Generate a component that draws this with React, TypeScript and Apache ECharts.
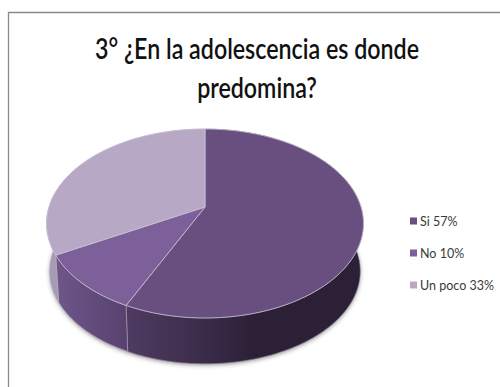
import React, { useEffect, useRef } from "react";
import * as echarts from "echarts";

// Survey answers, in percent, clockwise from twelve o'clock.
const answers = ["Si", "No", "Un poco"];
const percentages = [57, 10, 33];
const topColors = ["#684f80", "#7d5f9a", "#b7a9c5"];
const wallStops = [
  ["#4f3b62", "#2b2036"],
  ["#6e5689", "#57426f"],
  ["#a89bb5", "#958aa4"],
];
const titleLines = ["3° ¿En la adolescencia es donde", "predomina?"];

// Perspective tilt of the disc: apex position, radii and foreshortening.
const APEX_X = 205;
const APEX_Y = 207;
const RADIUS_X = 156;
const RADIUS_Y = 91.6;
const TILT = 0.1746;
const DEPTH = 48;
const BASE_SCALE = 0.98;

const labels = answers.map((a, i) => `${a} ${percentages[i]}%`);
const total = percentages.reduce((s, v) => s + v, 0);

const project = (deg: number, scale = 1, dy = 0): number[] => {
  const t = (deg * Math.PI) / 180;
  const u = Math.sin(t);
  const v = -Math.cos(t);
  const w = 1 - TILT * v;
  return [APEX_X + (scale * RADIUS_X * u) / w, APEX_Y + dy + (scale * RADIUS_Y * v) / w];
};

const arc = (from: number, to: number, scale = 1, dy = 0): number[][] => {
  const steps = Math.max(2, Math.ceil(Math.abs(to - from) / 1.5));
  const pts: number[][] = [];
  for (let i = 0; i <= steps; i++) pts.push(project(from + ((to - from) * i) / steps, scale, dy));
  return pts;
};

const spans = percentages.map((_, i) => {
  const before = percentages.slice(0, i).reduce((s, v) => s + v, 0);
  return [(before / total) * 360, ((before + percentages[i]) / total) * 360];
});

const renderTop = (i: number) => () => {
  const [a, b] = spans[i];
  return {
    type: "polygon",
    shape: { points: [[APEX_X, APEX_Y], ...arc(a, b)] },
    style: { fill: topColors[i], stroke: "#c9c1d3", lineWidth: 0.8, lineJoin: "round" },
  };
};

const renderWall = (_: unknown, api: any) => {
  const i = api.value(0);
  const [a, b] = spans[i];
  const top = arc(a, b);
  const bottom = arc(b, a, BASE_SCALE, DEPTH);
  return {
    type: "polygon",
    shape: { points: [...top, ...bottom] },
    style: {
      fill: new echarts.graphic.LinearGradient(
        0,
        0,
        1,
        0,
        i === 0
          ? [
              { offset: 0, color: wallStops[0][0] },
              { offset: 0.28, color: "#3e2e4e" },
              { offset: 0.55, color: wallStops[0][1] },
              { offset: 1, color: wallStops[0][1] },
            ]
          : [
              { offset: 0, color: wallStops[i][0] },
              { offset: 1, color: wallStops[i][1] },
            ],
      ),
      stroke: i === 0 ? "#8f8599" : "#b5acc0",
      lineWidth: 0.6,
    },
  };
};

// Soft shadow hugging the underside of the disc.
const renderShadow = () => ({
  type: "polygon",
  shape: { points: arc(0, 360, BASE_SCALE, DEPTH + 0.5) },
  style: {
    fill: "#9a9a9a",
    shadowBlur: 4,
    shadowColor: "rgba(60,60,60,0.55)",
    shadowOffsetY: 1,
  },
});

export default function App() {
  const ref = useRef<HTMLDivElement>(null);

  useEffect(() => {
    document.body.style.margin = "0";
    const chart = echarts.init(ref.current!, null, { renderer: "svg" });
    chart.setOption({
      animation: false,
      backgroundColor: "#ffffff",
      legend: {
        data: labels,
        orient: "vertical",
        left: 405,
        top: 208,
        itemWidth: 7,
        itemHeight: 7,
        itemGap: 16,
        icon: "rect",
        selectedMode: false,
        textStyle: {
          fontFamily: "Lato",
          fontSize: 12.5,
          color: "#3a3a3a",
          padding: [0, 0, 0, -2],
          lineHeight: 16,
        },
      },
      graphic: [
        {
          type: "polyline",
          silent: true,
          shape: { points: [[8.5, 387], [8.5, 12.5], [500, 12.5]] },
          style: { stroke: "#8a8a8a", lineWidth: 1.3, fill: "none" },
        },
        ...titleLines.map((text, i) => ({
          type: "text",
          silent: true,
          x: 257,
          y: 48 + i * 39,
          scaleX: 0.83,
          style: {
            text,
            fontFamily: "Lato",
            fontSize: 28,
            fontWeight: 600,
            fill: "#111111",
            textAlign: "center",
            textVerticalAlign: "middle",
          },
        })),
      ],
      series: [
        {
          type: "custom",
          name: "base",
          coordinateSystem: "none",
          silent: true,
          z: 1,
          data: [0],
          renderItem: renderShadow,
        },
        {
          type: "custom",
          name: "walls",
          coordinateSystem: "none",
          silent: true,
          z: 2,
          data: percentages.map((_, i) => [i]),
          renderItem: renderWall,
        },
        ...labels.map((name, i) => ({
          type: "custom",
          name,
          coordinateSystem: "none",
          silent: true,
          z: 3,
          itemStyle: { color: topColors[i] },
          data: [percentages[i]],
          renderItem: renderTop(i),
        })),
      ],
    });
    return () => chart.dispose();
  }, []);

  return <div ref={ref} style={{ width: 500, height: 387 }} />;
}
